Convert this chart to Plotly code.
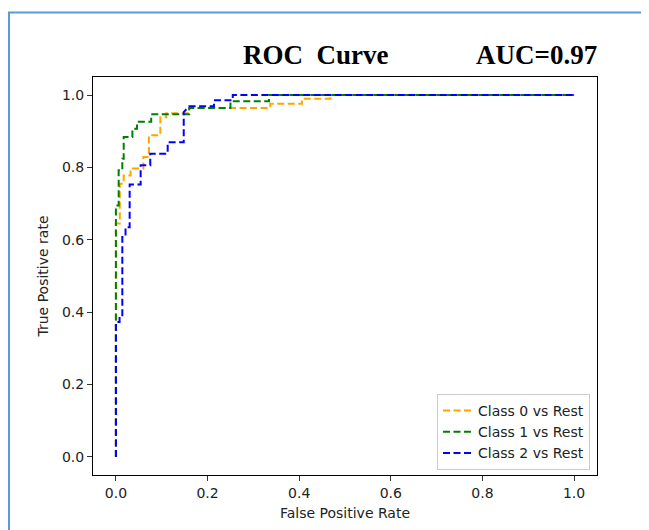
import plotly.graph_objects as go

# ROC curve vertices
class0_fpr = [0.0, 0.0, 0.0085, 0.0085, 0.017, 0.017, 0.032, 0.032, 0.060, 0.060, 0.072, 0.072,
              0.097, 0.097, 0.110, 0.110, 0.160, 0.160, 0.337, 0.337, 0.406, 0.406, 0.468, 0.468, 1.0]
class0_tpr = [0.0, 0.645, 0.645, 0.755, 0.755, 0.778, 0.778, 0.797, 0.797, 0.829, 0.829, 0.889,
              0.889, 0.939, 0.939, 0.950, 0.950, 0.964, 0.964, 0.976, 0.976, 0.990, 0.990, 1.0, 1.0]

class1_fpr = [0.0, 0.0, 0.006, 0.006, 0.014, 0.014, 0.017, 0.017, 0.036, 0.036, 0.046, 0.046,
              0.077, 0.077, 0.160, 0.160, 0.250, 0.250, 0.334, 0.334, 1.0]
class1_tpr = [0.0, 0.695, 0.695, 0.792, 0.792, 0.824, 0.824, 0.884, 0.884, 0.907, 0.907, 0.926,
              0.926, 0.947, 0.947, 0.964, 0.964, 0.983, 0.983, 1.0, 1.0]

class2_fpr = [0.0, 0.0, 0.008, 0.008, 0.014, 0.014, 0.021, 0.021, 0.030, 0.030, 0.054, 0.054,
              0.075, 0.075, 0.113, 0.113, 0.148, 0.148, 0.160, 0.214, 0.214, 0.255, 0.255, 1.0]
class2_tpr = [0.0, 0.373, 0.373, 0.387, 0.387, 0.608, 0.608, 0.635, 0.635, 0.753, 0.753, 0.806,
              0.806, 0.838, 0.838, 0.870, 0.870, 0.953, 0.969, 0.969, 0.986, 0.986, 1.0, 1.0]

series_names = ["Class 0 vs Rest", "Class 1 vs Rest", "Class 2 vs Rest"]
series_colors = ["orange", "green", "blue"]
tick_vals = [0.0, 0.2, 0.4, 0.6, 0.8, 1.0]
tick_text = ["0.0", "0.2", "0.4", "0.6", "0.8", "1.0"]

fig = go.Figure()
for fpr, tpr, name, color in zip([class0_fpr, class1_fpr, class2_fpr],
                                 [class0_tpr, class1_tpr, class2_tpr],
                                 series_names, series_colors):
    fig.add_trace(go.Scatter(x=fpr, y=tpr, mode="lines", name=name,
                             line=dict(color=color, width=2, dash="7px,3.5px")))

# page body has an 8px margin: the figure is placed at (8, 8) in the window
OFF = 8
W, H = 649 - OFF, 530 - OFF
L, R, T, B = 93 - OFF, 52, 77 - OFF, 55
pw, ph = W - L - R, H - T - B

def px_x(p):
    return (p - OFF - L) / pw

def px_y(p):
    return (H - B - (p - OFF)) / ph

FS = 14
axis_common = dict(range=[-0.05, 1.05], tickvals=tick_vals, ticktext=tick_text,
                   showgrid=False, zeroline=False, showline=True, mirror=True,
                   linecolor="black", linewidth=1, ticks="outside", ticklen=5,
                   tickcolor="#333", tickwidth=1,
                   tickfont=dict(family="DejaVu Sans", size=FS, color="#222"))

fig.update_layout(
    width=W, height=H,
    margin=dict(l=L, r=R, t=T, b=B),
    paper_bgcolor="white", plot_bgcolor="white",
    showlegend=True,
    legend=dict(x=px_x(590), y=px_y(470), xanchor="right", yanchor="bottom",
                bgcolor="white", bordercolor="#cccccc", borderwidth=1,
                itemwidth=30,
                font=dict(family="DejaVu Sans", size=FS, color="#222"),
                tracegroupgap=0),
    xaxis=dict(axis_common, title=dict(text="False Positive Rate", standoff=8,
                                       font=dict(family="DejaVu Sans", size=FS, color="#222"))),
    yaxis=dict(axis_common, title=dict(text="True Positive rate", standoff=10,
                                       font=dict(family="DejaVu Sans", size=FS, color="#222"))),
    annotations=[
        dict(text="<b>ROC\u00a0 Curve</b>", x=px_x(315.5), y=px_y(55), xref="paper", yref="paper",
             xanchor="center", yanchor="middle", showarrow=False,
             font=dict(family="Liberation Serif", size=27, color="black")),
        dict(text="<b>AUC=0.97</b>", x=px_x(536.5), y=px_y(55), xref="paper", yref="paper",
             xanchor="center", yanchor="middle", showarrow=False,
             font=dict(family="Liberation Serif", size=27, color="black")),
    ],
    shapes=[
        dict(type="line", xref="paper", yref="paper", x0=px_x(9), x1=px_x(9),
             y0=px_y(12), y1=px_y(540), line=dict(color="#5B9BD5", width=2)),
        dict(type="line", xref="paper", yref="paper", x0=px_x(8), x1=px_x(660),
             y0=px_y(12.5), y1=px_y(12.5), line=dict(color="#5B9BD5", width=2)),
    ],
)

fig.write_html("out.html")
